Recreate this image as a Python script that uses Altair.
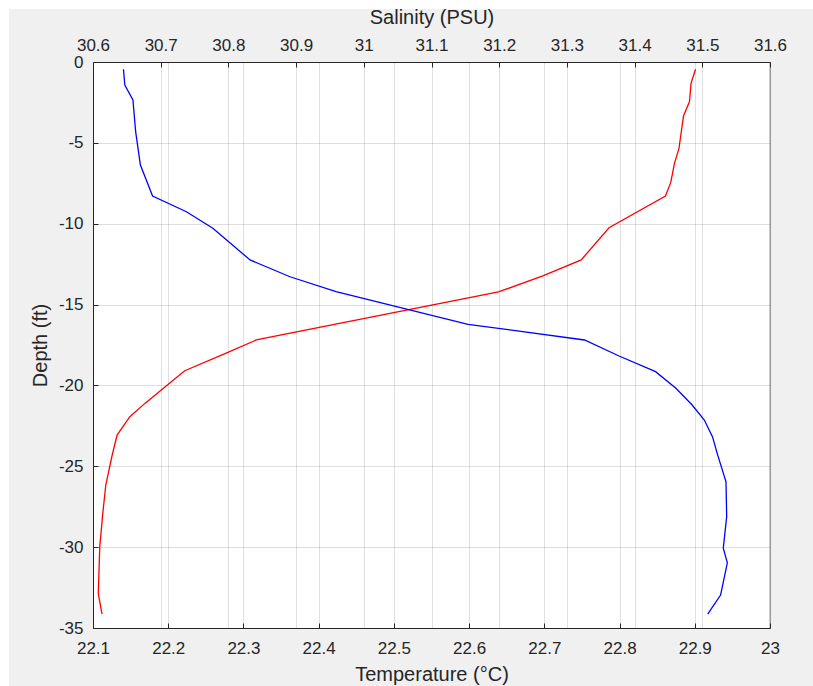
import altair as alt
import pandas as pd

# ---- data ----
depth_sal = [-0.45, -1.42, -2.35, -4.31, -6.37, -8.29, -9.26, -10.28, -12.24, -13.28,
             -14.20, -16.22, -17.19, -18.18, -19.15, -20.18, -21.21, -22.14, -23.17,
             -24.20, -25.96, -28.12, -30.07, -30.97, -32.96, -34.14]
salinity = [30.645, 30.647, 30.659, 30.663, 30.670, 30.688, 30.738, 30.777, 30.832, 30.891,
            30.959, 31.154, 31.326, 31.377, 31.431, 31.461, 31.485, 31.503, 31.515,
            31.522, 31.535, 31.536, 31.531, 31.537, 31.527, 31.508]

depth_temp = [-0.45, -1.32, -2.45, -3.34, -5.34, -6.27, -7.46, -8.29, -10.25, -12.24,
              -13.22, -14.22, -17.19, -18.00, -19.09, -20.08, -21.11, -21.93, -23.07,
              -24.41, -26.16, -27.91, -29.97, -32.86, -34.14]
temperature = [22.901, 22.895, 22.893, 22.885, 22.879, 22.873, 22.868, 22.861, 22.786, 22.749,
               22.698, 22.639, 22.317, 22.277, 22.222, 22.196, 22.169, 22.149, 22.132,
               22.125, 22.117, 22.113, 22.109, 22.107, 22.112]

temp_ticks = [22.1, 22.2, 22.3, 22.4, 22.5, 22.6, 22.7, 22.8, 22.9, 23]
sal_ticks = [30.6, 30.7, 30.8, 30.9, 31, 31.1, 31.2, 31.3, 31.4, 31.5, 31.6]
depth_ticks = [0, -5, -10, -15, -20, -25, -30, -35]

sal_df = pd.DataFrame({"depth": depth_sal, "sal": salinity, "i": list(range(len(salinity)))})
temp_df = pd.DataFrame({"depth": depth_temp, "temp": temperature, "i": list(range(len(temperature)))})

# ---- layout / style ----
W, H = 677, 566
PL, PT, PR, PB = 93, 62, 43, 58
AX = "#262626"
FIG = "#f0f0f0"
FONT = "Liberation Sans"
TICK_FS = 17
TITLE_FS = 20

temp_scale = alt.Scale(domain=[22.1, 23], nice=False, zero=False)
sal_scale = alt.Scale(domain=[30.6, 31.6], nice=False, zero=False)
depth_scale = alt.Scale(domain=[-35, 0], nice=False, zero=False)

common = dict(labelFont=FONT, labelFontSize=TICK_FS, labelColor=AX, titleFont=FONT,
              titleFontSize=TITLE_FS, titleFontWeight="normal", titleColor=AX,
              labelFlush=False, labelOverlap=False, labelExpr="'' + datum.value",
              grid=True, gridColor=AX, gridOpacity=0.15, gridWidth=1,
              ticks=False, domain=True, domainColor=AX, domainWidth=1, zindex=1)

tick_only = dict(labels=False, domain=False, grid=False, ticks=True, tickSize=5,
                 tickColor=AX, tickWidth=1, offset=-5, title=None, zindex=1)

temp_axis = alt.Axis(orient="bottom", values=temp_ticks, title="Temperature (°C)",
                     labelPadding=12, titlePadding=8, **common)
sal_axis = alt.Axis(orient="top", values=sal_ticks, title="Salinity (PSU)",
                    labelPadding=8, titlePadding=9, **common)
depth_axis = alt.Axis(orient="left", values=depth_ticks, title="Depth (ft)",
                      labelPadding=10, titlePadding=8, **common)

temp_ticks_axis = alt.Axis(orient="bottom", values=temp_ticks, **tick_only)
sal_ticks_axis = alt.Axis(orient="top", values=sal_ticks, **tick_only)
depth_ticks_axis = alt.Axis(orient="left", values=depth_ticks, **tick_only)

one = alt.Data(values=[{}])


def strip(x, x2, y, y2):
    return alt.Chart(one).mark_rect(color=FIG, stroke=None).encode(
        x=alt.value(x), x2=alt.value(x2), y=alt.value(y), y2=alt.value(y2))


bg = [
    strip(9 - PL, W + PR, 9 - PT, 0),
    strip(9 - PL, W + PR, H, H + PB),
    strip(9 - PL, 0, 0, H),
    strip(W, W + PR, 0, H),
]

red = alt.Chart(temp_df).mark_line(color="#ff0000", strokeWidth=1.3).encode(
    x=alt.X("temp:Q", scale=temp_scale, axis=temp_axis),
    y=alt.Y("depth:Q", scale=depth_scale, axis=depth_axis),
    order="i:Q",
)
blue = alt.Chart(sal_df).mark_line(color="#0000ff", strokeWidth=1.3).encode(
    x=alt.X("sal:Q", scale=sal_scale, axis=sal_axis),
    y=alt.Y("depth:Q", scale=depth_scale, axis=None),
    order="i:Q",
)
red_ticks = alt.Chart(temp_df).mark_line(strokeOpacity=0).encode(
    x=alt.X("temp:Q", scale=temp_scale, axis=temp_ticks_axis),
    y=alt.Y("depth:Q", scale=depth_scale, axis=depth_ticks_axis),
    order="i:Q",
)
blue_ticks = alt.Chart(sal_df).mark_line(strokeOpacity=0).encode(
    x=alt.X("sal:Q", scale=sal_scale, axis=sal_ticks_axis),
    y=alt.Y("depth:Q", scale=depth_scale, axis=None),
    order="i:Q",
)
right_border = alt.Chart(one).mark_rule(color="#999999", strokeWidth=1).encode(
    x=alt.value(W), y=alt.value(0), y2=alt.value(H))

chart = alt.layer(*bg, red, blue, red_ticks, blue_ticks, right_border).resolve_scale(
    x="independent"
).resolve_axis(
    x="independent", y="independent"
).properties(
    width=W, height=H,
    autosize=alt.AutoSizeParams(type="none"),
    padding={"left": PL, "top": PT, "right": PR, "bottom": PB},
    background="white",
).configure_view(
    fill="white", strokeOpacity=0
)

chart.save("out.html", embed_options={"renderer": "svg", "actions": False})
